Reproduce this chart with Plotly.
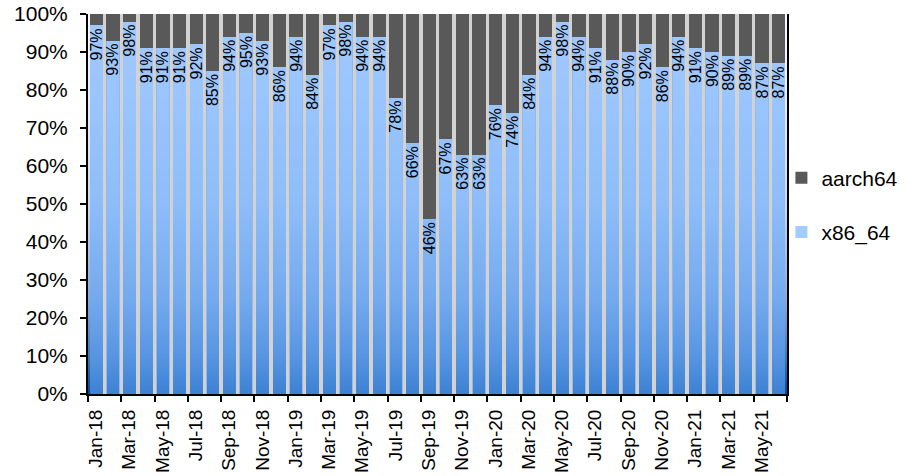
import base64
import struct
import zlib

import plotly.graph_objects as go

# ---------------- data ----------------
months = [
    "Jan-18", "Feb-18", "Mar-18", "Apr-18", "May-18", "Jun-18", "Jul-18", "Aug-18",
    "Sep-18", "Oct-18", "Nov-18", "Dec-18", "Jan-19", "Feb-19", "Mar-19", "Apr-19",
    "May-19", "Jun-19", "Jul-19", "Aug-19", "Sep-19", "Oct-19", "Nov-19", "Dec-19",
    "Jan-20", "Feb-20", "Mar-20", "Apr-20", "May-20", "Jun-20", "Jul-20", "Aug-20",
    "Sep-20", "Oct-20", "Nov-20", "Dec-20", "Jan-21", "Feb-21", "Mar-21", "Apr-21",
    "May-21", "Jun-21",
]
x86_64_pct = [
    97, 93, 98, 91, 91, 91, 92, 85, 94, 95, 93, 86, 94, 84, 97, 98, 94, 94, 78, 66,
    46, 67, 63, 63, 76, 74, 84, 94, 98, 94, 91, 88, 90, 92, 86, 94, 91, 90, 89, 89,
    87, 87,
]
aarch64_pct = [100 - v for v in x86_64_pct]
y_ticks = [i / 10 for i in range(11)]

# ---------------- style helpers ----------------
FONT = "Liberation Sans, Arial, sans-serif"
ALPHA = 0.6
BAR_RGB = (100, 170, 252)
# target composited colours, fraction from bottom
TARGET = [
    (0.00, (62, 130, 212)),
    (0.10, (88, 150, 226)),
    (0.25, (116, 170, 238)),
    (0.50, (142, 189, 249)),
    (0.75, (153, 196, 253)),
    (1.00, (160, 201, 255)),
]


def interp(t):
    for (t0, c0), (t1, c1) in zip(TARGET[:-1], TARGET[1:]):
        if t0 <= t <= t1:
            f = (t - t0) / (t1 - t0)
            return tuple(c0[k] + (c1[k] - c0[k]) * f for k in range(3))
    return TARGET[-1][1]


def gradient_png(h=256):
    rows = b""
    for r in range(h):
        t = 1 - r / (h - 1)
        tc = interp(t)
        px = []
        for k in range(3):
            v = (tc[k] - ALPHA * BAR_RGB[k]) / (1 - ALPHA)
            px.append(int(max(0, min(255, round(v)))))
        rows += b"\x00" + bytes(px)

    def chunk(tag, data):
        c = struct.pack(">I", len(data)) + tag + data
        return c + struct.pack(">I", zlib.crc32(tag + data) & 0xFFFFFFFF)

    png = (b"\x89PNG\r\n\x1a\n"
           + chunk(b"IHDR", struct.pack(">IIBBBBB", 1, h, 8, 2, 0, 0, 0))
           + chunk(b"IDAT", zlib.compress(rows))
           + chunk(b"IEND", b""))
    return "data:image/png;base64," + base64.b64encode(png).decode()


xs = list(range(len(months)))
n = len(months)

fig = go.Figure()
fig.add_trace(go.Bar(
    x=xs, y=[v / 100 for v in x86_64_pct], name="x86_64",
    marker=dict(color=f"rgba({BAR_RGB[0]},{BAR_RGB[1]},{BAR_RGB[2]},{ALPHA})", line=dict(width=0)),
    text=[f"{v}%" for v in x86_64_pct], textposition="inside", insidetextanchor="end",
    textangle=-90, insidetextfont=dict(family=FONT, size=16, color="black"),
    constraintext="none", legendgroup="x86", legendrank=2, hoverinfo="skip",
))
fig.add_trace(go.Bar(
    x=xs, y=[v / 100 for v in aarch64_pct], name="aarch64",
    marker=dict(color="#595959", line=dict(width=0)),
    legendgroup="arm", legendrank=1, hoverinfo="skip",
))

tick_pos = [i - 0.5 for i in range(0, n + 1, 2)]
tick_txt = [months[i] if i < n else "" for i in range(0, n + 1, 2)]

fig.update_layout(
    template="none",
    width=912, height=476,
    margin=dict(l=88, r=125, t=14, b=82, autoexpand=False),
    barmode="stack", bargap=0.2,
    paper_bgcolor="white", plot_bgcolor="rgba(0,0,0,0)",
    font=dict(family=FONT, size=20, color="black"),
    legend=dict(
        x=0.992, xanchor="left", y=0.497, yanchor="middle",
        traceorder="grouped", tracegroupgap=24,
        font=dict(family=FONT, size=21, color="black"),
        bgcolor="rgba(0,0,0,0)", itemwidth=30,
    ),
    images=[dict(
        source=gradient_png(), xref="x domain", yref="y domain",
        x=0, y=1, sizex=1, sizey=1, xanchor="left", yanchor="top",
        sizing="stretch", layer="below",
    )],
)
fig.update_xaxes(
    automargin=False,
    range=[-0.5, n - 0.5], tickmode="array", tickvals=tick_pos, ticktext=tick_txt,
    tickangle=-90, ticks="outside", ticklen=6, tickwidth=2, tickcolor="black",
    ticklabelshift=8, ticklabelstandoff=0, tickfont=dict(family=FONT, size=19),
    showline=True, linecolor="black", linewidth=2, showgrid=False, zeroline=False,
    minor=dict(tick0=-0.5, dtick=1, showgrid=True, gridcolor="#d2d2d2", gridwidth=4, ticks=""),
)
fig.update_yaxes(
    automargin=False,
    range=[0, 1], tickmode="array", tickvals=y_ticks, tickformat=".0%",
    ticks="outside", ticklen=6, tickwidth=2, tickcolor="black", ticklabelstandoff=8,
    tickfont=dict(family=FONT, size=21),
    showline=True, linecolor="black", linewidth=2, mirror=True,
    showgrid=False, zeroline=False,
)

fig.write_html("out.html", config={"displayModeBar": False},
               post_script="document.body.style.margin='0';")
